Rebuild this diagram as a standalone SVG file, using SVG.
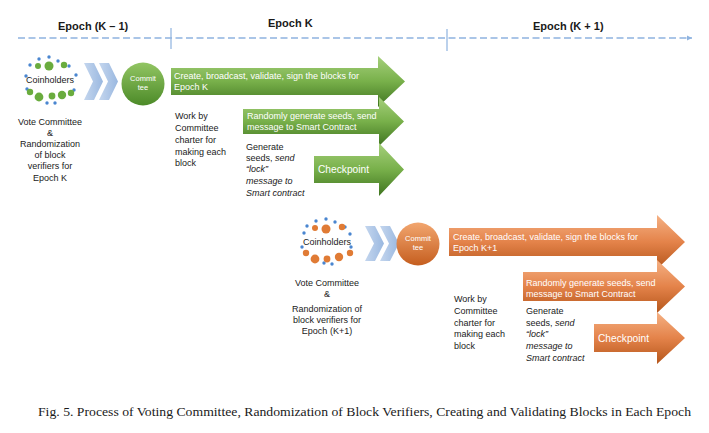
<svg xmlns="http://www.w3.org/2000/svg" width="709" height="433" viewBox="0 0 709 433">
<defs>
<style>
.t{font-family:"Liberation Sans",Arial,sans-serif;font-size:9px;fill:#1a1a1a}
.w{font-family:"Liberation Sans",Arial,sans-serif;font-size:9px;fill:#ffffff}
.ck{font-family:"Liberation Sans",Arial,sans-serif;font-size:10.2px;fill:#ffffff}
.cm{font-family:"Liberation Sans",Arial,sans-serif;font-size:7.5px;fill:#ffffff}
.ep{font-family:"Liberation Sans",Arial,sans-serif;font-size:11px;font-weight:bold;fill:#1a1a1a}
.cap{font-family:"Liberation Serif","Times New Roman",serif;font-size:13px;fill:#1a1a1a}
.bd{fill:#4a86d0}
.gd{fill:#6aac3e}
.od{fill:#e07b35}
.chev{fill:url(#chv)}
.ga{fill:url(#ggr)}
.oa{fill:url(#ogr)}
</style>
<linearGradient id="ggr" x1="0" y1="0" x2="0" y2="1">
<stop offset="0" stop-color="#a6d07c"/>
<stop offset="0.5" stop-color="#78b04a"/>
<stop offset="1" stop-color="#3f7420"/>
</linearGradient>
<linearGradient id="ogr" x1="0" y1="0" x2="0" y2="1">
<stop offset="0" stop-color="#f5b184"/>
<stop offset="0.5" stop-color="#e4834a"/>
<stop offset="1" stop-color="#b5561b"/>
</linearGradient>
<linearGradient id="gci" x1="0" y1="0" x2="0" y2="1">
<stop offset="0" stop-color="#92c563"/>
<stop offset="1" stop-color="#4c8a28"/>
</linearGradient>
<linearGradient id="oci" x1="0" y1="0" x2="0" y2="1">
<stop offset="0" stop-color="#f2a66f"/>
<stop offset="1" stop-color="#c55e1f"/>
</linearGradient>
<linearGradient id="chv" x1="0" y1="0" x2="1" y2="0">
<stop offset="0" stop-color="#c4d6ee"/>
<stop offset="1" stop-color="#9ab8e0"/>
</linearGradient>
<marker id="ah" markerWidth="6" markerHeight="6" refX="5" refY="3" orient="auto" markerUnits="userSpaceOnUse">
<path d="M0,0.5 L5,3 L0,5.5 Z" fill="#8eb3e0"/>
</marker>
</defs>

<g id="timeline">
<line x1="18" y1="38" x2="692" y2="38" stroke="#8eb3e0" stroke-width="1.5" stroke-dasharray="7,3.5" marker-end="url(#ah)"/>
<line x1="171" y1="28" x2="171" y2="49" stroke="#8eb3e0" stroke-width="1.2"/>
<line x1="447" y1="29" x2="447" y2="51" stroke="#8eb3e0" stroke-width="1.2"/>
<text class="ep" x="58" y="30">Epoch (K – 1)</text>
<text class="ep" x="268" y="27">Epoch K</text>
<text class="ep" x="533" y="30">Epoch (K + 1)</text>
</g>

<g id="coinholders-k">
<circle class="bd" cx="30" cy="65" r="1.7"/><circle class="bd" cx="39" cy="59" r="1.7"/><circle class="bd" cx="49" cy="57" r="1.7"/><circle class="bd" cx="58" cy="61" r="1.7"/><circle class="bd" cx="69" cy="66" r="1.7"/><circle class="bd" cx="76" cy="75" r="1.7"/><circle class="bd" cx="26" cy="76" r="1.7"/><circle class="bd" cx="27" cy="89" r="1.7"/><circle class="bd" cx="74" cy="90" r="1.7"/><circle class="bd" cx="47" cy="103" r="1.7"/><circle class="bd" cx="55" cy="103" r="1.7"/>
<circle class="gd" cx="38" cy="66" r="3"/><circle class="gd" cx="49" cy="66" r="4.5"/><circle class="gd" cx="64" cy="65" r="3.2"/><circle class="gd" cx="30" cy="92" r="3.2"/><circle class="gd" cx="39" cy="97" r="4.4"/><circle class="gd" cx="52" cy="96" r="3.4"/><circle class="gd" cx="62" cy="95" r="4.2"/><circle class="gd" cx="71" cy="93" r="3.2"/>
<text class="t" x="26" y="83">Coinholders</text>
<text class="t" text-anchor="middle"><tspan x="50" y="125">Vote Committee</tspan><tspan x="50" y="135.5">&amp;</tspan><tspan x="50" y="147">Randomization</tspan><tspan x="50" y="158">of block</tspan><tspan x="50" y="169">verifiers for</tspan><tspan x="50" y="180.5">Epoch K</tspan></text>
</g>

<g id="chevrons-k">
<polygon class="chev" points="84,63 94,63 103,81.5 94,100 84,100 93,81.5"/>
<polygon class="chev" points="99,63 109,63 118,81.5 109,100 99,100 108,81.5"/>
</g>

<g id="committee-k">
<circle cx="143" cy="84" r="21.5" fill="url(#gci)"/>
<text class="cm" text-anchor="middle"><tspan x="143" y="81">Commit</tspan><tspan x="143" y="90">tee</tspan></text>
</g>

<g id="create-k">
<polygon class="ga" points="171,68 378,68 378,56 405,81.5 378,107 378,95 171,95"/>
<text class="w"><tspan x="174" y="78.5">Create, broadcast, validate, sign the blocks for</tspan><tspan x="174" y="89.5">Epoch K</tspan></text>
</g>

<g id="seeds-k">
<polygon class="ga" points="243,109 379,109 379,97 404,121.5 379,146 379,134 243,134"/>
<text class="w"><tspan x="247" y="119">Randomly generate seeds,  send</tspan><tspan x="247" y="129.5">message to Smart Contract</tspan></text>
</g>

<g id="checkpoint-k">
<polygon class="ga" points="314,156 379,156 379,143 404,169.5 379,196 379,183 314,183"/>
<text class="ck" x="318" y="173">Checkpoint</text>
</g>

<g id="work-k">
<text class="t"><tspan x="175" y="119">Work by</tspan><tspan x="175" y="131">Committee</tspan><tspan x="175" y="143">charter for</tspan><tspan x="175" y="154.5">making each</tspan><tspan x="175" y="165.5">block</tspan></text>
</g>

<g id="generate-k">
<text class="t"><tspan x="246" y="149.5">Generate</tspan><tspan x="246" y="160.5">seeds, <tspan font-style="italic">send</tspan></tspan><tspan x="246" y="172" font-style="italic">“lock”</tspan><tspan x="246" y="184" font-style="italic">message to</tspan><tspan x="246" y="196" font-style="italic">Smart contract</tspan></text>
</g>

<g id="coinholders-k1">
<circle class="bd" cx="307" cy="226" r="1.7"/><circle class="bd" cx="316" cy="221" r="1.7"/><circle class="bd" cx="326" cy="219" r="1.7"/><circle class="bd" cx="335" cy="222" r="1.7"/><circle class="bd" cx="345" cy="227" r="1.7"/><circle class="bd" cx="350" cy="234" r="1.7"/><circle class="bd" cx="304" cy="233" r="1.7"/><circle class="bd" cx="302" cy="247" r="1.7"/><circle class="bd" cx="351" cy="247" r="1.7"/><circle class="bd" cx="324" cy="263" r="1.7"/><circle class="bd" cx="332" cy="264" r="1.7"/>
<circle class="od" cx="315" cy="228" r="3"/><circle class="od" cx="326" cy="229" r="4.5"/><circle class="od" cx="342" cy="227" r="3.2"/><circle class="od" cx="306" cy="253" r="3.2"/><circle class="od" cx="315" cy="259" r="4.4"/><circle class="od" cx="327" cy="259" r="3.4"/><circle class="od" cx="339" cy="257" r="4.2"/><circle class="od" cx="350" cy="253" r="3.2"/>
<text class="t" x="303" y="245">Coinholders</text>
<text class="t" text-anchor="middle"><tspan x="327" y="286">Vote Committee</tspan><tspan x="327" y="296.5">&amp;</tspan><tspan x="327" y="312">Randomization of</tspan><tspan x="327" y="322.5">block verifiers for</tspan><tspan x="327" y="333.5">Epoch (K+1)</tspan></text>
</g>

<g id="chevrons-k1">
<polygon class="chev" points="365,226 375,226 384,243.5 375,261 365,261 374,243.5"/>
<polygon class="chev" points="380,226 390,226 399,243.5 390,261 380,261 389,243.5"/>
</g>

<g id="committee-k1">
<circle cx="418" cy="244" r="21.5" fill="url(#oci)"/>
<text class="cm" text-anchor="middle"><tspan x="418" y="241">Commit</tspan><tspan x="418" y="250">tee</tspan></text>
</g>

<g id="create-k1">
<polygon class="oa" points="449,228 657,228 657,215 685,242 657,269 657,256 449,256"/>
<text class="w"><tspan x="453" y="240">Create, broadcast, validate, sign the blocks for</tspan><tspan x="453" y="251">Epoch K+1</tspan></text>
</g>

<g id="seeds-k1">
<polygon class="oa" points="523,272 657,272 657,260 685,286.5 657,313 657,301 523,301"/>
<text class="w"><tspan x="526" y="285.5">Randomly generate  seeds, send</tspan><tspan x="526" y="297">message to Smart Contract</tspan></text>
</g>

<g id="checkpoint-k1">
<polygon class="oa" points="594,324 657,324 657,312 685,338 657,364 657,352 594,352"/>
<text class="ck" x="598" y="341.5">Checkpoint</text>
</g>

<g id="work-k1">
<text class="t"><tspan x="454" y="302">Work by</tspan><tspan x="454" y="314">Committee</tspan><tspan x="454" y="325.5">charter for</tspan><tspan x="454" y="337">making each</tspan><tspan x="454" y="349">block</tspan></text>
</g>

<g id="generate-k1">
<text class="t"><tspan x="526" y="314">Generate</tspan><tspan x="526" y="325.5">seeds, <tspan font-style="italic">send</tspan></tspan><tspan x="526" y="337" font-style="italic">“lock”</tspan><tspan x="526" y="349" font-style="italic">message to</tspan><tspan x="526" y="360.5" font-style="italic">Smart contract</tspan></text>
</g>

<g id="caption">
<text class="cap" x="38" y="416" textLength="653" lengthAdjust="spacingAndGlyphs">Fig. 5.  Process of Voting Committee, Randomization of Block Verifiers, Creating and Validating Blocks in Each Epoch</text>
</g>
</svg>
